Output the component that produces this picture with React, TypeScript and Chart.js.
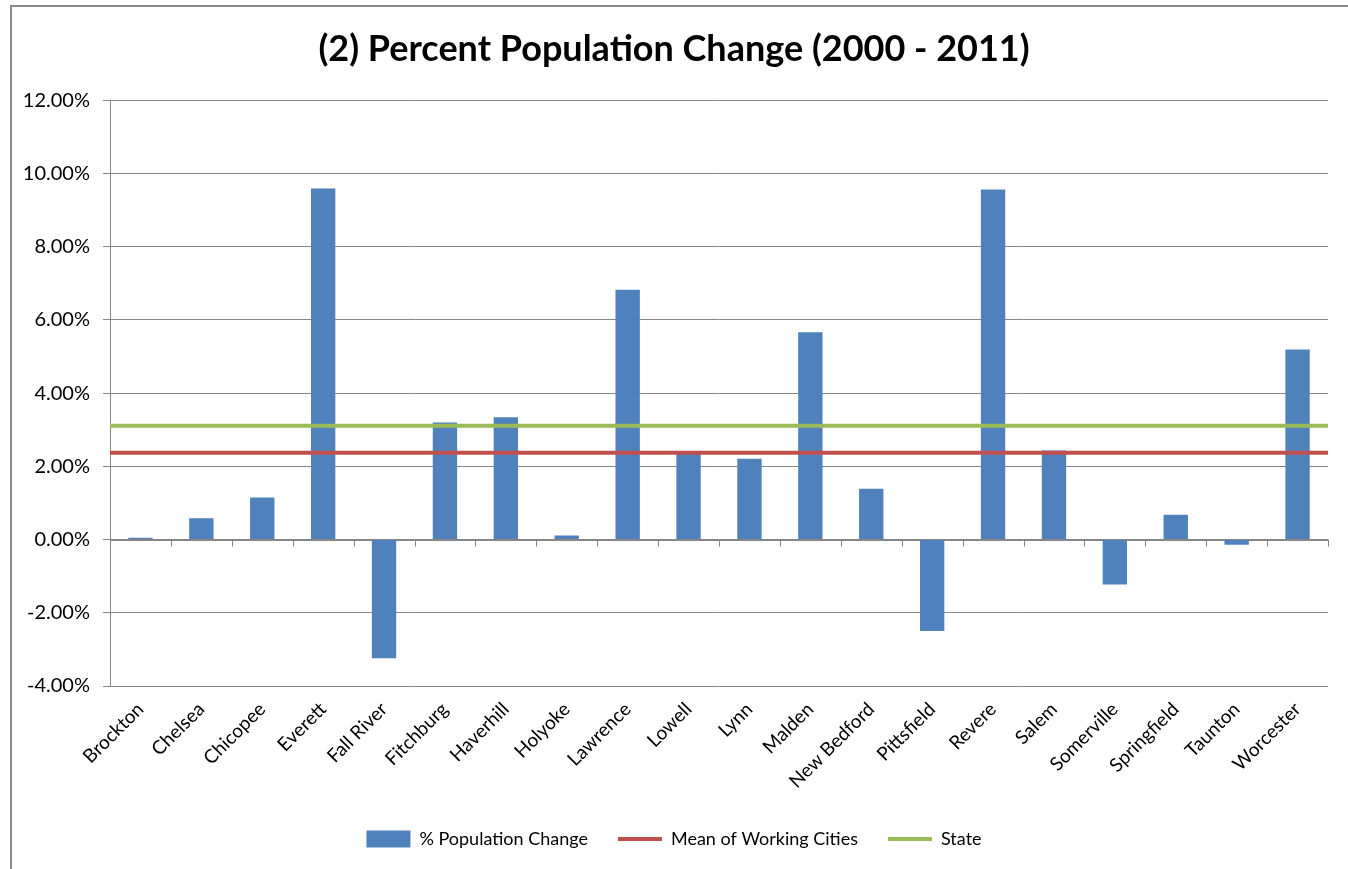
import React, { useEffect, useRef } from "react";
import { Chart, registerables } from "chart.js";

Chart.register(...registerables);

const cities: string[] = [
  "Brockton", "Chelsea", "Chicopee", "Everett", "Fall River", "Fitchburg", "Haverhill",
  "Holyoke", "Lawrence", "Lowell", "Lynn", "Malden", "New Bedford", "Pittsfield",
  "Revere", "Salem", "Somerville", "Springfield", "Taunton", "Worcester",
];
const popChange: number[] = [
  0.05, 0.58, 1.15, 9.59, -3.24, 3.2, 3.34, 0.11, 6.82, 2.38,
  2.21, 5.66, 1.39, -2.5, 9.56, 2.43, -1.23, 0.68, -0.14, 5.19,
];
const meanOfWorkingCities: number = 2.37;
const stateValue: number = 3.11;
const yTicks: number[] = [-4, -2, 0, 2, 4, 6, 8, 10, 12];

const title = "(2) Percent Population Change (2000 - 2011)";
const seriesNames: string[] = ["% Population Change", "Mean of Working Cities", "State"];
const colors: string[] = ["#4F81BD", "#C0504D", "#9BBB59"];

const FONT = "Lato, 'Open Sans', sans-serif";

const zeroAxisPlugin = {
  id: "zeroAxis",
  beforeDatasetsDraw(chart: any) {
    const { ctx, chartArea, scales } = chart;
    const xs = scales.x;
    const y0 = scales.y.getPixelForValue(0);
    ctx.save();
    ctx.strokeStyle = "#868686";
    ctx.lineWidth = 1;
    ctx.beginPath();
    ctx.moveTo(chartArea.left, Math.round(y0) + 0.5);
    ctx.lineTo(chartArea.right, Math.round(y0) + 0.5);
    const n = cities.length;
    for (let i = 0; i <= n; i++) {
      let x: number;
      if (i === 0) x = chartArea.left;
      else if (i === n) x = chartArea.right;
      else x = (xs.getPixelForValue(i - 1) + xs.getPixelForValue(i)) / 2;
      x = Math.round(x) + 0.5;
      ctx.moveTo(x, y0);
      ctx.lineTo(x, y0 + 7);
    }
    ctx.stroke();
    ctx.restore();
  },
};

export default function App() {
  const ref = useRef<HTMLCanvasElement | null>(null);

  useEffect(() => {
    document.body.style.margin = "0";
    const canvas = ref.current;
    if (!canvas) return;
    const chart = new Chart(canvas, {
      type: "bar",
      data: {
        labels: cities,
        datasets: [
          {
            type: "bar",
            label: seriesNames[0],
            data: popChange,
            backgroundColor: colors[0],
            borderWidth: 0,
            barPercentage: 0.4,
            categoryPercentage: 1,
            grouped: false,
            order: 2,
            xAxisID: "x",
          } as any,
          {
            type: "line",
            label: seriesNames[1],
            data: [{ x: 0, y: meanOfWorkingCities }, { x: 1, y: meanOfWorkingCities }],
            borderColor: colors[1],
            backgroundColor: colors[1],
            borderWidth: 4,
            pointRadius: 0,
            xAxisID: "x2",
            order: 1,
          } as any,
          {
            type: "line",
            label: seriesNames[2],
            data: [{ x: 0, y: stateValue }, { x: 1, y: stateValue }],
            borderColor: colors[2],
            backgroundColor: colors[2],
            borderWidth: 4,
            pointRadius: 0,
            xAxisID: "x2",
            order: 0,
          } as any,
        ],
      },
      options: {
        responsive: false,
        animation: false,
        layout: { padding: { top: 10, left: 20, right: 20, bottom: 11 } },
        plugins: {
          title: {
            display: true,
            text: title,
            color: "#000",
            font: { family: FONT, size: 36, weight: "bold" },
            padding: { top: 18, bottom: 29 },
          },
          legend: {
            display: true,
            position: "bottom",
            labels: {
              usePointStyle: true,
              pointStyleWidth: 44,
              boxHeight: 17,
              padding: 30,
              color: "#000",
              font: { family: FONT, size: 18 },
              generateLabels: () => [
                { text: seriesNames[0], fillStyle: colors[0], strokeStyle: colors[0], lineWidth: 0, pointStyle: "rect", datasetIndex: 0, hidden: false },
                { text: seriesNames[1], fillStyle: colors[1], strokeStyle: colors[1], lineWidth: 4, pointStyle: "line", datasetIndex: 1, hidden: false },
                { text: seriesNames[2], fillStyle: colors[2], strokeStyle: colors[2], lineWidth: 4, pointStyle: "line", datasetIndex: 2, hidden: false },
              ] as any,
            },
          },
          tooltip: { enabled: false },
        },
        scales: {
          x: {
            type: "category",
            offset: true,
            grid: { display: false, drawTicks: false },
            border: { display: false },
            ticks: {
              color: "#000",
              font: { family: FONT, size: 19 },
              minRotation: 45,
              maxRotation: 45,
              autoSkip: false,
              padding: 12,
            },
            afterFit: (s: any) => { s.height = 114; },
          },
          x2: {
            type: "linear",
            min: 0,
            max: 1,
            offset: false,
            grid: { offset: false },
            display: false,
          },
          y: {
            type: "linear",
            min: -4,
            max: 12,
            afterBuildTicks: (s: any) => { s.ticks = yTicks.map((v) => ({ value: v })); },
            grid: { color: "#868686", lineWidth: 1, tickLength: 7 },
            border: { display: true, color: "#868686", width: 1 },
            ticks: {
              color: "#000",
              font: { family: FONT, size: 20 },
              padding: 13,
              callback: (v: any) => Number(v).toFixed(2) + "%",
            },
            afterFit: (s: any) => { s.width = 90; },
          },
        },
      },
      plugins: [zeroAxisPlugin],
    });
    return () => chart.destroy();
  }, []);

  return (
    <div style={{ position: "fixed", left: 0, top: 0, width: 1348, height: 869, background: "#fff", overflow: "hidden" }}>
      <div style={{ position: "absolute", left: 10, top: 5, width: 1400, height: 900, borderLeft: "2px solid #8a8a8a", borderTop: "2px solid #8a8a8a" }} />
      <canvas ref={ref} width={1348} height={869} style={{ position: "absolute", left: 0, top: 0 }} />
    </div>
  );
}
